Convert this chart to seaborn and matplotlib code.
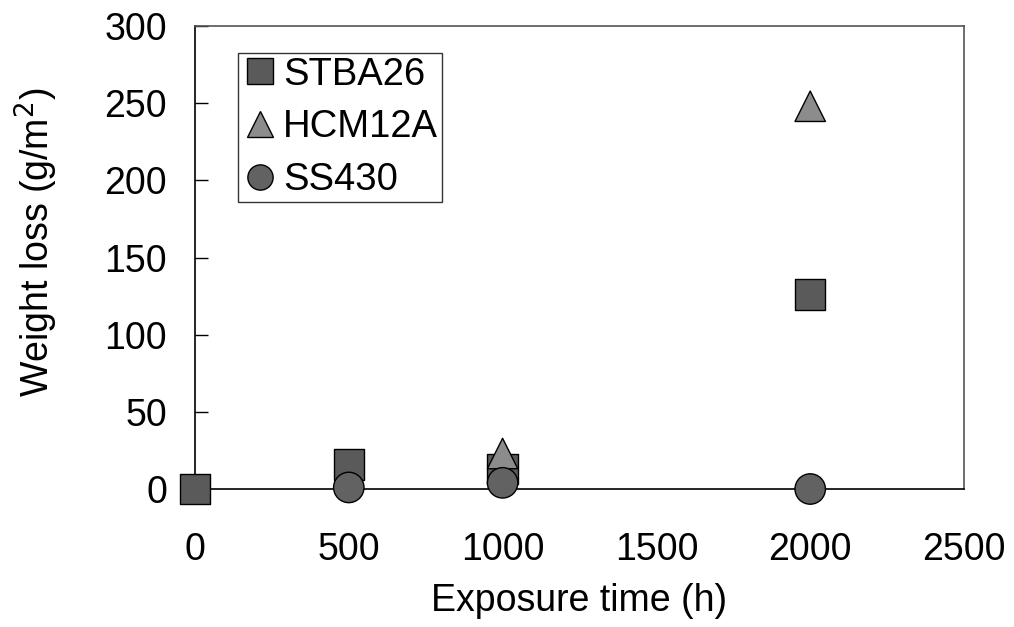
import pandas as pd
from matplotlib import pyplot as plt
import seaborn as sns

# data
stba26_time = [0, 500, 1000, 2000]
stba26_loss = [0, 16, 13, 126]
hcm12a_time = [1000, 2000]
hcm12a_loss = [23, 248]
ss430_time = [500, 1000, 2000]
ss430_loss = [1, 4, 0]

df = pd.concat([
    pd.DataFrame({"time": stba26_time, "loss": stba26_loss, "alloy": "STBA26"}),
    pd.DataFrame({"time": hcm12a_time, "loss": hcm12a_loss, "alloy": "HCM12A"}),
    pd.DataFrame({"time": ss430_time, "loss": ss430_loss, "alloy": "SS430"}),
], ignore_index=True)

sns.set_style("white")
plt.rcParams["font.family"] = ["Liberation Sans", "DejaVu Sans"]
plt.rcParams["text.color"] = "black"
plt.rcParams["axes.labelcolor"] = "black"
plt.rcParams["xtick.color"] = "black"
plt.rcParams["ytick.color"] = "black"

fig = plt.figure(figsize=(10.14, 6.27), dpi=100)
ax = fig.add_axes([0.1923, 0.2201, 0.7584, 0.7384])

order = ["STBA26", "HCM12A", "SS430"]
sns.scatterplot(
    data=df, x="time", y="loss", hue="alloy", style="alloy",
    hue_order=order, style_order=order,
    palette={"STBA26": "#5a5a5a", "HCM12A": "#8c8c8c", "SS430": "#626262"},
    markers={"STBA26": "s", "HCM12A": "^", "SS430": "o"},
    s=480, edgecolor="black", linewidth=1.0, clip_on=False, zorder=3, ax=ax,
)

ax.set_xlim(0, 2500)
ax.set_ylim(0, 300)
ax.set_xticks(range(0, 2501, 500))
ax.set_yticks(range(0, 301, 50))
ax.tick_params(axis="x", length=0, pad=31, labelsize=27)
ax.tick_params(axis="y", direction="in", length=9, width=1, color="black",
               left=True, pad=20, labelsize=27)

for side in ["left", "bottom"]:
    ax.spines[side].set_color("black")
    ax.spines[side].set_linewidth(1.2)
for side in ["top", "right"]:
    ax.spines[side].set_color("#555555")
    ax.spines[side].set_linewidth(1.2)

ax.set_xlabel("Exposure time (h)", fontsize=27, labelpad=11)
ax.set_ylabel("Weight loss (g/m$^2$)", fontsize=27)
ax.yaxis.set_label_coords(-0.175, 0.533)

leg = ax.legend(loc="upper left", bbox_to_anchor=(0.056, 0.942), fontsize=27.5,
                frameon=True, fancybox=False, edgecolor="black",
                handletextpad=0.12, labelspacing=0.44, borderpad=0.1,
                borderaxespad=0, markerscale=0.83, handlelength=0.96)
leg.get_frame().set_linewidth(1.0)

plt.savefig("out.png", dpi=100)
